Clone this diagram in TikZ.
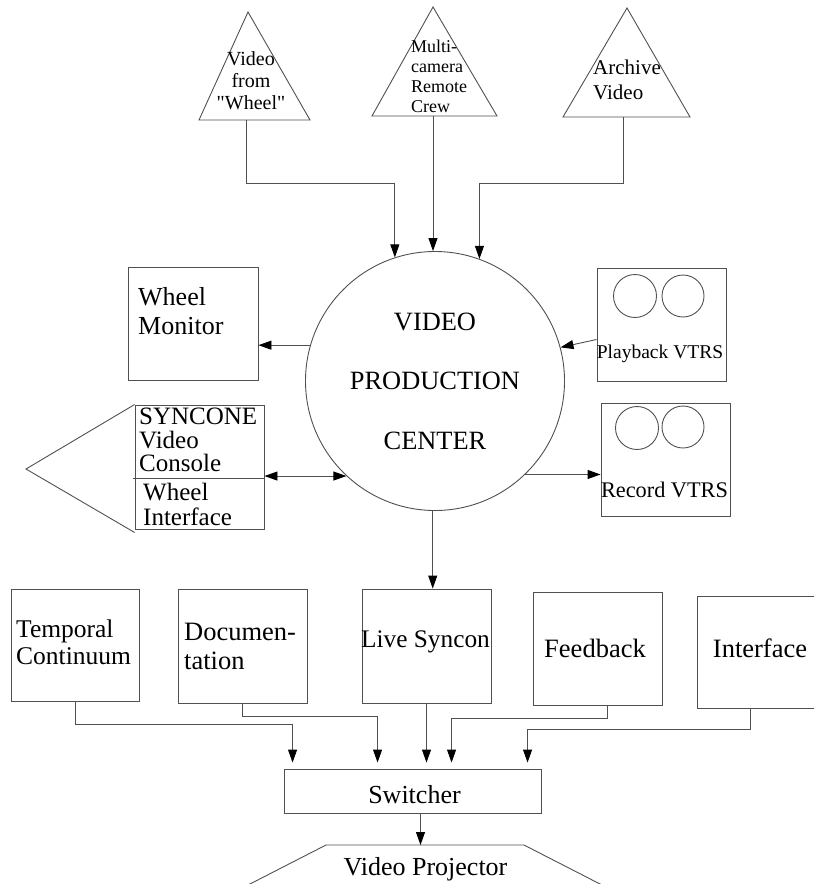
\documentclass[tikz,border=0pt]{standalone}
\usepackage{fontspec}
\setmainfont{Liberation Serif}
\definecolor{vpline}{RGB}{80,80,80}
\usetikzlibrary{arrows.meta,positioning,calc}
\newcommand{\vpfont}[2]{\fontsize{#1}{#2}\selectfont}

\begin{document}
\begin{tikzpicture}[x=1pt, y=-1pt,
    box/.style={draw=vpline, line width=0.9pt, inner sep=0pt},
    txt/.style={inner sep=0pt, align=left, font=\vpfont{26}{29}},
    link/.style={draw=vpline, line width=0.9pt, -{Triangle[length=13pt,width=9pt,color=black]}},
    dlink/.style={link, {Triangle[length=13pt,width=9pt,color=black]}-{Triangle[length=13pt,width=9pt,color=black]}}
  ]
    \useasboundingbox (0,0) rectangle (814,884);

    % Video sources
    \draw[box] (199,120) -- (248,12) -- (310,120) -- cycle;
    \draw[box] (372,116) -- (433,7) -- (497,116) -- cycle;
    \draw[box] (563,117) -- (627,8) -- (690,117) -- cycle;
    \node[txt, align=center, font=\vpfont{20}{22}] (wheelsrc) at (251,81) {Video\\from\\\textquotedbl Wheel\textquotedbl};
    \node[txt, anchor=west, font=\vpfont{18}{19.7}] (crewsrc) at (411,76.3) {Multi-\\camera\\Remote\\Crew};
    \node[txt, anchor=west, font=\vpfont{21}{25}] (archsrc) at (593,80.3) {Archive\\Video};
    \coordinate (wheelout) at (246,120);
    \coordinate (crewout) at (433,116);
    \coordinate (archout) at (623,117);

    % Production center
    \node[box, circle, minimum size=259, align=center, font=\vpfont{26.4}{30}] (vpc) at (435,381)
      {VIDEO\\[29.5pt]PRODUCTION\\[29.5pt]CENTER};

    \draw[link] (wheelout) -- (246,183) -| (vpc.108);
    \draw[link] (crewout) -- (crewout |- vpc.north);
    \draw[link] (archout) -- (623,183) -| (vpc.70);

    % Left side
    \node[box, minimum width=130, minimum height=113] (mon) at (193,323.5) {};
    \node[txt, anchor=west] (montxt) at (138,311.6) {Wheel\\Monitor};
    \draw[link] (vpc.164) -- (vpc.164 -| mon.east);

    \node[box, minimum width=129, minimum height=124] (syn) at (199.5,467) {};
    \coordinate (cone) at (26,469);
    \draw[box] (syn.north west) -- (cone) -- ([yshift=-3pt]syn.south west);
    \draw[box] ([xshift=-2pt]syn.west |- 0,478) -- (syn.east |- 0,478);
    \node[txt, anchor=west, font=\vpfont{25}{23.5}] (syntxt) at (139,440) {SYNCONE\\Video\\Console};
    \node[txt, anchor=west, font=\vpfont{25}{25}] (wiftxt) at (143,504) {Wheel\\Interface};
    \draw[dlink] (vpc.227 -| syn.east) -- (vpc.227);

    % Right side
    \node[box, minimum width=129, minimum height=113] (play) at (661.5,324.5) {};
    \draw[box] (635,296) circle[radius=21.5pt] (683,296) circle[radius=21pt];
    \node[txt, anchor=base, font=\vpfont{19.5}{22}] (playtxt) at (660,358) {Playback VTRS};
    \draw[link] ([yshift=-15pt]play.west) -- (vpc.15);

    \node[box, minimum width=129, minimum height=113] (rec) at (665.5,459.5) {};
    \draw[box] (637,428) circle[radius=21.5pt] (683,427) circle[radius=21pt];
    \node[txt, anchor=base, font=\vpfont{22.3}{25}] (rectxt) at (664.5,497) {Record VTRS};
    \draw[link] (vpc.-46) -- (vpc.-46 -| rec.west);

    % Bottom row
    \node[box, minimum width=128, minimum height=112] (temp) at (75,645) {};
    \node[txt, anchor=west, font=\vpfont{25.5}{27}] (temptxt) at (16,641.8) {Temporal\\Continuum};
    \node[box, minimum width=129, minimum height=114] (doc) at (242.5,646) {};
    \node[txt, anchor=west, font=\vpfont{26.5}{29}] (doctxt) at (184,646.5) {Documen-\\tation};
    \node[box, minimum width=129, minimum height=114] (live) at (426.5,646) {};
    \node[txt, anchor=base, font=\vpfont{25.3}{29}] (livetxt) at (425.5,647) {Live Syncon};
    \node[box, minimum width=129, minimum height=113] (feed) at (597.5,648.5) {};
    \node[txt, anchor=base, font=\vpfont{26.5}{29}] (feedtxt) at (595,657) {Feedback};
    \node[box, minimum width=129, minimum height=112] (intf) at (761.5,652) {};
    \node[txt, anchor=base, font=\vpfont{26.5}{29}] (intftxt) at (760,657) {Interface};

    \draw[link] (vpc.-91) -- (vpc.-91 |- live.north);

    % Switcher
    \node[box, minimum width=257, minimum height=44] (sw) at (412.5,791) {};
    \node[txt, anchor=base] (swtxt) at (414.5,803) {Switcher};

    \draw[link, shorten >=6pt] (temp.south) -- ++(0,23) -| ([xshift=9pt]sw.north west);
    \draw[link, shorten >=6pt] (doc.south) -- ++(0,13) -| ([xshift=94pt]sw.north west);
    \draw[link, shorten >=6pt] (live.south) -- (live.south |- sw.north);
    \draw[link, shorten >=6pt] ([xshift=10pt]feed.south) -- ++(0,13) -| ([xshift=168pt]sw.north west);
    \draw[link, shorten >=6pt] ([xshift=-11pt]intf.south) -- ++(0,21) -| ([xshift=244pt]sw.north west);

    % Projector
    \coordinate (projtop) at (425,845);
    \draw[box] (209,905) -- (326,845) -- (524,845) -- (641,905);
    \node[txt, anchor=base] (proj) at (425.5,875) {Video Projector};
    \draw[link] ([xshift=8pt]sw.south) -- ([xshift=8pt]sw.south |- projtop);
  \end{tikzpicture}
\end{document}
